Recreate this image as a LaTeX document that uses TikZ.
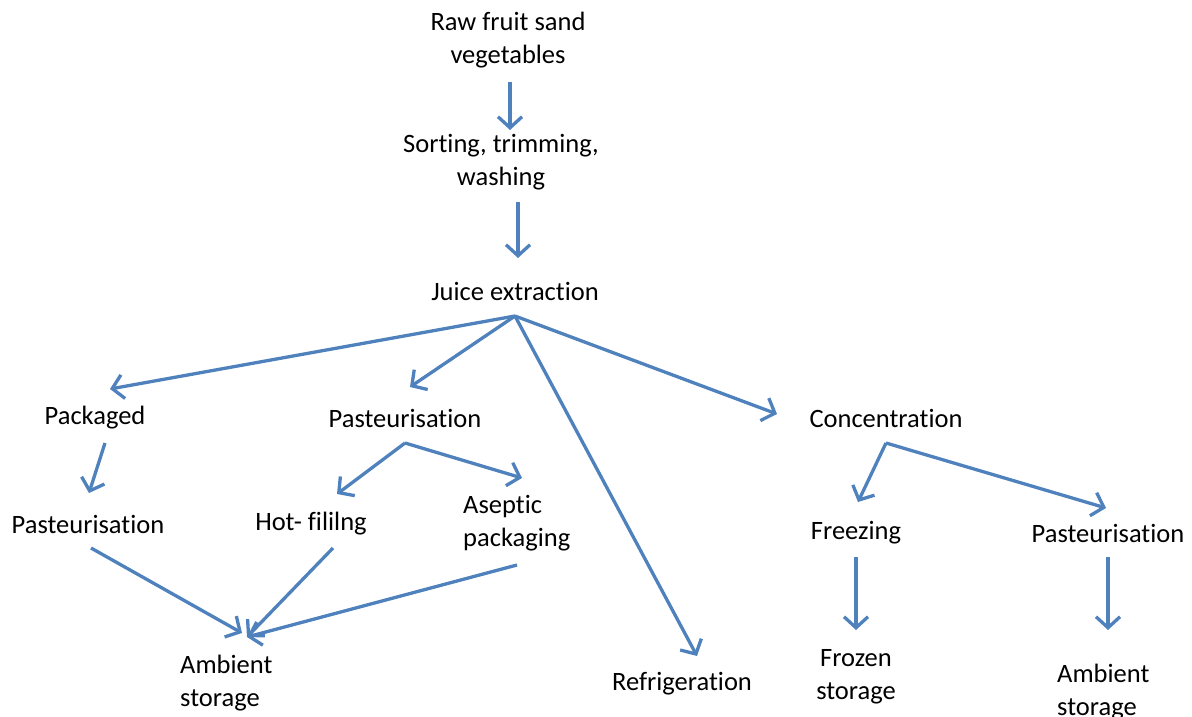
\documentclass[tikz,border=0pt]{standalone}
\usepackage{fontspec}
\setmainfont{Carlito}[Ligatures=NoCommon]
\usetikzlibrary{arrows.meta}
\definecolor{arrowblue}{RGB}{79,129,189}
\tikzset{
  lbl/.style={inner sep=0pt, font=\fontsize{26.5}{33}\selectfont, text=black},
  flow/.style={draw=arrowblue, line width=3.3pt, -{Straight Barb[length=11pt,width=24pt,line width=3.3pt]}}
}
\begin{document}
\begin{tikzpicture}[x=1pt,y=-1pt]
\useasboundingbox (0,0) rectangle (1192,717);
% nodes
\node[lbl,align=center] (raw) at (508,40) {Raw fruit sand\\vegetables};
\node[lbl,align=center] (sort) at (501,162) {Sorting, trimming,\\washing};
\node[lbl] (juice) at (515,291) {Juice extraction};
\node[lbl] (pack) at (95,418) {Packaged};
\node[lbl] (past1) at (405,418) {Pasteurisation};
\node[lbl] (conc) at (886,418) {Concentration};
\node[lbl] (past2) at (88,524) {Pasteurisation};
\node[lbl] (hot) at (311,524) {Hot- fililng};
\node[lbl,align=left,anchor=west] (asep) at (463,523) {Aseptic\\packaging};
\node[lbl,align=left,anchor=west] (amb1) at (180,683) {Ambient\\storage};
\node[lbl] (refr) at (682,684) {Refrigeration};
\node[lbl] (freez) at (856,533) {Freezing};
\node[lbl] (past3) at (1108,533) {Pasteurisation};
\node[lbl,align=center] (froz) at (856,677) {Frozen\\storage};
\node[lbl,align=left,anchor=west] (amb2) at (1057,692) {Ambient\\storage};
% connector end points
\coordinate (raw-o) at (510,82);   \coordinate (sort-i) at (510,130);
\coordinate (sort-o) at (518,202); \coordinate (juice-i) at (518,258);
\coordinate (juice-o) at (515,316);
\coordinate (pack-i) at (110,389);
\coordinate (past1-i) at (410,387);
\coordinate (refr-i) at (697,656);
\coordinate (conc-i) at (777,414);
\coordinate (pack-o) at (105,443);  \coordinate (past2-i) at (89,493);
\coordinate (past1-o) at (405,443);
\coordinate (hot-i) at (337,494);
\coordinate (asep-i) at (522,478);
\coordinate (past2-o) at (91,548);
\coordinate (hot-o) at (333,548);
\coordinate (asep-o) at (517,565);
\coordinate (amb1-i) at (242,633);
\coordinate (amb1-j) at (247,637);
\coordinate (conc-o) at (886,443);
\coordinate (freez-i) at (858,502);
\coordinate (past3-i) at (1106,508);
\coordinate (freez-o) at (856,557); \coordinate (froz-i) at (856,630);
\coordinate (past3-o) at (1108,557); \coordinate (amb2-i) at (1108,630);
% connectors
\draw[flow] (raw-o) -- (sort-i);
\draw[flow] (sort-o) -- (juice-i);
\draw[flow] (juice-o) -- (pack-i);
\draw[flow] (juice-o) -- (past1-i);
\draw[flow] (juice-o) -- (refr-i);
\draw[flow] (juice-o) -- (conc-i);
\draw[flow] (pack-o) -- (past2-i);
\draw[flow] (past1-o) -- (hot-i);
\draw[flow] (past1-o) -- (asep-i);
\draw[flow] (past2-o) -- (amb1-i);
\draw[flow] (hot-o) -- (amb1-j);
\draw[flow] (asep-o) -- (amb1-j);
\draw[flow] (conc-o) -- (freez-i);
\draw[flow] (conc-o) -- (past3-i);
\draw[flow] (freez-o) -- (froz-i);
\draw[flow] (past3-o) -- (amb2-i);
\end{tikzpicture}
\end{document}
